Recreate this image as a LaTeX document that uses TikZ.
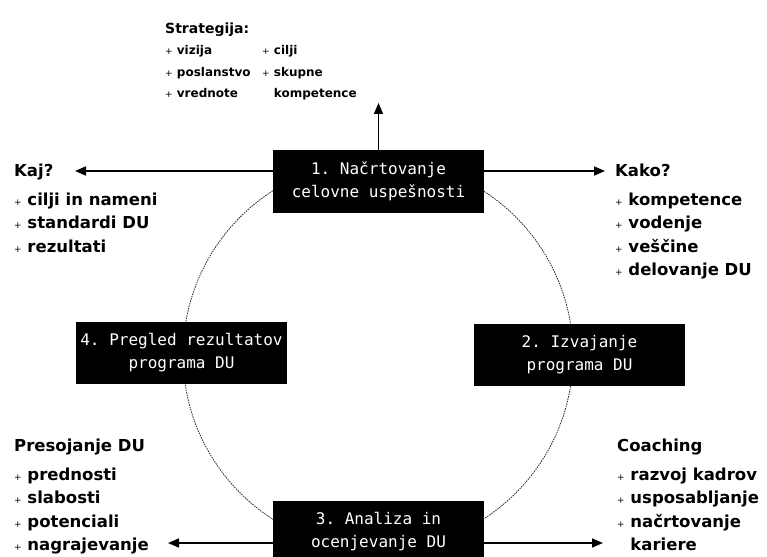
\documentclass[tikz,border=0pt]{standalone}
\usepackage{fontspec}
\setsansfont{DejaVu Sans}
\setmonofont{DejaVu Sans Mono}
\usetikzlibrary{arrows.meta, backgrounds}
\newcommand{\pl}{{\mdseries\fontsize{9}{9}\selectfont+}\ }

\begin{document}
\begin{tikzpicture}[x=1pt, y=-1pt,
  stage/.style={fill=black, text=white, minimum width=211pt, minimum height=62pt,
    inner sep=0pt, align=center, font=\ttfamily\fontsize{16}{23}\selectfont},
  lbl/.style={anchor=north west, inner sep=0pt, align=left,
    font=\sffamily\bfseries\fontsize{16.5}{23.5}\selectfont},
  arr/.style={line width=1.6pt, -{Triangle[length=11pt, width=9pt]}},
  cyc/.style={line width=0.8pt, dash pattern=on 1.5pt off 1pt, black!85}]
\useasboundingbox (0,0) rectangle (767,556);
\clip (0,0) rectangle (767,556);

% the four stages
\node[stage] (plan) at (378.5,181.5) {1. Načrtovanje\\celovne uspešnosti};
\node[stage] (izv) at (579.5,355) {2. Izvajanje\\programa DU};
\node[stage] (anal) at (378.5,532) {3. Analiza in\\ocenjevanje DU};
\node[stage] (pregl) at (181.5,353) {4. Pregled rezultatov\\programa DU};

% cycle behind the stages
\begin{scope}[on background layer]
\draw[cyc] (378,355) circle[radius=195pt];
\end{scope}

% lists
\node[lbl, font=\sffamily\bfseries\fontsize{12}{21.5}\selectfont] (strat) at (165,18)
  {\begin{tabular}{@{}p{97pt}@{}l@{}}
   \multicolumn{2}{@{}l@{}}{\fontsize{14}{21.5}\selectfont Strategija:}\\
   \pl vizija & \pl cilji\\
   \pl poslanstvo & \pl skupne\\
   \pl vrednote & \phantom{\pl}kompetence
   \end{tabular}};
\node[lbl] (kaj) at (14,164)
  {Kaj?\\[5pt] \pl cilji in nameni\\ \pl standardi DU\\ \pl rezultati};
\node[lbl] (kako) at (615,164)
  {Kako?\\[5pt] \pl kompetence\\ \pl vodenje\\ \pl veščine\\ \pl delovanje DU};
\node[lbl] (preso) at (14,439)
  {Presojanje DU\\[5pt] \pl prednosti\\ \pl slabosti\\ \pl potenciali\\ \pl nagrajevanje};
\node[lbl] (coach) at (617,439)
  {Coaching\\[5pt] \pl razvoj kadrov\\ \pl usposabljanje\\ \pl načrtovanje\\ \phantom{\pl}kariere};

% arrows out of stages 1 and 3
\coordinate (kajtip) at (75,171);
\coordinate (kakotip) at (605,171);
\coordinate (strattip) at (378.5,103);
\coordinate (presotip) at (168,543);
\coordinate (coachtip) at (603,543);
\draw[arr] (plan.west |- kajtip) -- (kajtip);
\draw[arr] (plan.east |- kakotip) -- (kakotip);
\draw[arr] (plan.north) -- (strattip);
\draw[arr] (anal.west |- presotip) -- (presotip);
\draw[arr] (anal.east |- coachtip) -- (coachtip);
\end{tikzpicture}
\end{document}
